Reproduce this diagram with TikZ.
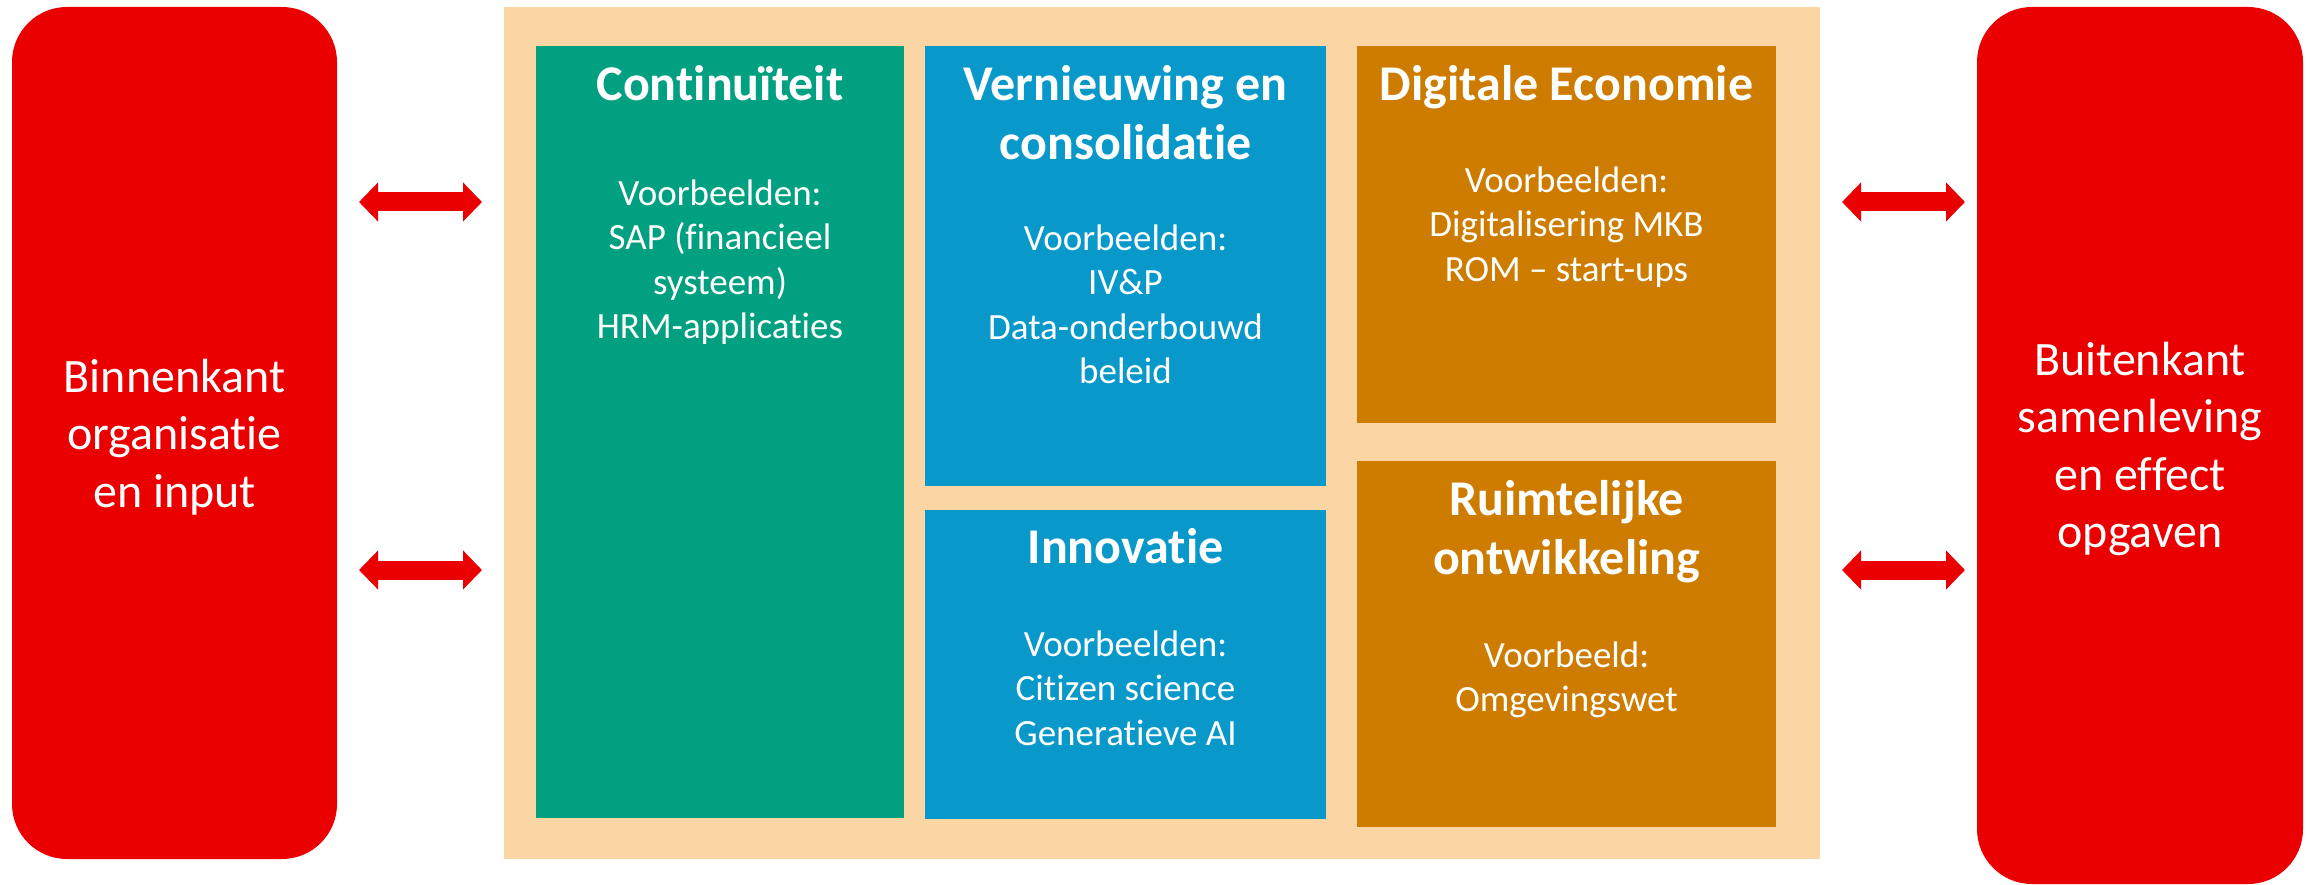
\documentclass[tikz,border=0pt]{standalone}
\usepackage{fontspec}
\setmainfont{Carlito}[RawFeature={-liga;-clig;-calt;-dlig;-hlig}]
\usetikzlibrary{arrows.meta}
\definecolor{myred}{HTML}{EA0000}
\definecolor{mybeige}{HTML}{FCD5A5}
\definecolor{mygreen}{HTML}{00A080}
\definecolor{myblue}{HTML}{0898CA}
\definecolor{myorange}{HTML}{CD7C00}
\newcommand\tstrut{\rule{0pt}{1em}}
\tikzset{
  blk/.style={rectangle, draw=none, inner sep=0pt},
  sidebox/.style={blk, fill=myred, rounded corners=55pt},
  ttl/.style={anchor=north, inner sep=0pt, align=center, text=white, font=\bfseries\fontsize{50}{59}\selectfont},
  bdy/.style={anchor=north, inner sep=0pt, align=center, text=white, font=\fontsize{37}{44.5}\selectfont},
  sidetxt/.style={anchor=north, inner sep=0pt, align=center, text=white, font=\fontsize{48}{57.5}\selectfont},
  dbl/.style={draw=myred, line width=19pt, {Triangle[length=19pt,width=38pt]}-{Triangle[length=19pt,width=38pt]}}
}
\begin{document}
\begin{tikzpicture}[x=1pt, y=-1pt]
\useasboundingbox (0,0) rectangle (2310,885);
% side boxes
\node[sidebox, minimum width=325pt, minimum height=852pt] (L) at (174.5,433) {};
\node[sidebox, minimum width=326pt, minimum height=877pt] (R) at (2140,445.5) {};
% central panel
\node[blk, fill=mybeige, minimum width=1316pt, minimum height=852pt] (P) at (1162,433) {};
% inner boxes
\node[blk, fill=mygreen, minimum width=368pt, minimum height=772pt] (G) at (720,432) {};
\node[blk, fill=myblue, minimum width=401pt, minimum height=440pt] (B1) at (1125.5,266) {};
\node[blk, fill=myblue, minimum width=401pt, minimum height=309pt] (B2) at (1125.5,664.5) {};
\node[blk, fill=myorange, minimum width=419pt, minimum height=377pt] (O1) at (1566.5,234.5) {};
\node[blk, fill=myorange, minimum width=419pt, minimum height=366pt] (O2) at (1566.5,644) {};
% texts
\node[sidetxt] (Lt) at (174.5,344) {\tstrut Binnenkant\\organisatie\\en input};
\node[sidetxt] (Rt) at (2140,327) {\tstrut Buitenkant\\samenleving\\en effect\\opgaven};
\node[ttl] (Gt) at (720,50) {\tstrut Continuïteit};
\node[bdy] (Gb) at (720,168) {\tstrut Voorbeelden:\\SAP (financieel\\systeem)\\HRM-applicaties};
\node[ttl] (B1t) at (1125.5,50) {\tstrut Vernieuwing en\\consolidatie};
\node[bdy] (B1b) at (1125.5,213) {\tstrut Voorbeelden:\\IV\&P\\Data-onderbouwd\\beleid};
\node[ttl] (B2t) at (1125.5,513) {\tstrut Innovatie};
\node[bdy] (B2b) at (1125.5,619) {\tstrut Voorbeelden:\\Citizen science\\Generatieve AI};
\node[ttl] (O1t) at (1566.5,50) {\tstrut Digitale Economie};
\node[bdy] (O1b) at (1566.5,155) {\tstrut Voorbeelden:\\Digitalisering MKB\\ROM – start-ups};
\node[ttl] (O2t) at (1566.5,465) {\tstrut Ruimtelijke\\ontwikkeling};
\node[bdy] (O2b) at (1566.5,630) {\tstrut Voorbeeld:\\Omgevingswet};
% arrows
\coordinate (a1) at (359,202);
\coordinate (a2) at (482,202);
\coordinate (a3) at (359,570);
\coordinate (a4) at (482,570);
\coordinate (a5) at (1842,202);
\coordinate (a6) at (1965,202);
\coordinate (a7) at (1842,570);
\coordinate (a8) at (1965,570);
\draw[dbl] (a1) -- (a2);
\draw[dbl] (a3) -- (a4);
\draw[dbl] (a5) -- (a6);
\draw[dbl] (a7) -- (a8);
\end{tikzpicture}
\end{document}
